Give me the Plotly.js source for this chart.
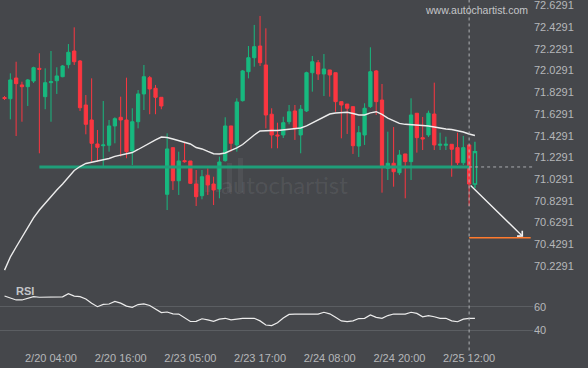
<!DOCTYPE html>
<html><head><meta charset="utf-8">
<script src="https://cdn.plot.ly/plotly-3.0.1.min.js"></script>
<style>html,body{margin:0;padding:0;background:#45474b;overflow:hidden}#chart{width:588px;height:368px}</style>
</head><body><div id="chart"></div>
<script>
// ---- data (hourly candles, index based axis) ----
const openP  = [71.781,71.770,71.961,71.897,71.881,71.933,72.050,71.789,71.918,71.936,
71.973,72.084,72.210,72.118,71.712,71.574,71.353,71.337,71.341,71.519,
71.599,71.574,71.288,71.558,71.814,71.964,71.866,71.783,70.889,71.319,
71.014,71.199,71.196,70.984,70.876,71.061,70.984,70.938,71.199,71.519,
71.344,71.752,72.019,72.148,72.256,72.081,71.627,71.436,71.436,71.558,
71.657,71.436,71.657,72.010,72.102,71.998,72.035,72.010,71.743,71.721,
71.697,71.334,71.436,71.697,72.026,71.758,71.129,71.175,71.088,71.261,
71.190,71.636,71.411,71.436,71.629,71.341,71.341,71.350,71.319,71.180,
71.344,70.984];
const highP  = [71.795,72.004,72.111,71.927,71.952,72.065,72.189,72.050,72.210,72.060,
72.081,72.274,72.428,72.127,71.804,71.958,71.482,71.749,71.574,71.599,
71.789,71.964,71.682,71.850,72.081,71.980,71.897,71.783,71.451,71.319,
71.282,71.365,71.196,71.113,71.113,71.129,71.051,71.236,71.599,71.519,
71.774,72.035,72.256,72.450,72.533,72.419,71.682,71.549,71.604,71.712,
71.712,71.712,72.019,72.164,72.127,72.182,72.035,72.010,71.743,71.721,
71.697,71.519,71.728,72.244,72.035,71.906,71.466,71.509,71.297,71.261,
71.774,71.636,71.602,71.660,71.918,71.457,71.420,71.350,71.457,71.427,
71.344,71.374];
const lowP   = [71.758,71.580,71.426,71.558,71.703,71.915,71.267,71.673,71.558,71.814,
71.968,72.050,72.081,71.657,71.442,71.190,71.190,71.144,71.282,71.359,
71.236,71.221,71.159,71.497,71.666,71.627,71.627,71.673,70.744,70.929,
70.883,71.180,70.984,70.781,70.843,70.883,70.790,70.852,71.190,71.282,
71.282,71.744,71.958,72.065,72.072,71.497,71.313,71.313,71.408,71.534,
71.390,71.267,71.648,71.835,71.943,71.795,71.789,71.650,71.405,71.445,
71.261,71.233,71.344,71.685,71.620,70.904,71.021,70.959,71.067,70.852,
71.021,71.273,71.297,71.417,71.297,71.297,71.297,71.051,71.159,71.159,
70.781,70.944];
const closeP = [71.772,71.943,71.909,71.881,71.943,72.056,72.041,71.918,71.927,71.980,
72.072,72.198,72.111,71.687,71.534,71.359,71.322,71.344,71.519,71.586,
71.574,71.282,71.558,71.814,71.973,71.860,71.783,71.703,71.307,71.014,
71.196,71.190,70.990,70.867,71.051,70.975,70.929,71.187,71.519,71.359,
71.740,72.026,72.148,72.250,72.102,71.620,71.436,71.427,71.549,71.650,
71.497,71.673,72.010,72.111,71.998,72.044,71.989,71.743,71.712,71.682,
71.337,71.457,71.682,72.019,71.743,71.144,71.175,71.097,71.251,71.190,
71.620,71.411,71.399,71.636,71.344,71.350,71.350,71.304,71.180,71.319,
70.984,71.282];
const maValues = [70.190,70.311,70.403,70.496,70.588,70.671,70.744,70.809,70.873,70.929,
70.984,71.049,71.109,71.145,71.173,71.184,71.194,71.205,71.219,71.238,
71.251,71.267,71.274,71.302,71.334,71.367,71.391,71.417,71.413,71.399,
71.385,71.374,71.353,71.320,71.307,71.284,71.263,71.261,71.270,71.293,
71.316,71.348,71.394,71.436,71.473,71.477,71.477,71.477,71.482,71.486,
71.491,71.500,71.519,71.546,71.579,71.606,71.629,71.638,71.643,71.645,
71.634,71.620,71.620,71.640,71.650,71.625,71.592,71.565,71.543,71.534,
71.528,71.525,71.523,71.519,71.509,71.500,71.491,71.486,71.477,71.463,
71.445,71.431];
const rsiValues = [69,67.5,65.7,65.7,67,68.5,68,68,68,68,
68.3,71,69,68.5,66.5,63,60,62,62.3,64.5,
63,60.5,59.5,61.8,62.3,61,58,55,55.5,54,
53.8,50.8,47.5,47.6,49.8,48.8,47.6,49.5,50.2,48.8,
49.5,50.2,50.2,50.2,48,44.5,44,46.5,50.5,53.5,
53.8,53.8,53.8,53.8,53.8,55.3,54,51,48,47.4,
48,50,50.2,53,51,50.2,52.5,53.8,53.8,53.8,
55.3,54.3,51.5,52.5,51.5,50.2,50.2,48,47.3,49.5,
50.2,50.2];
const tickIndex  = [8,20,32,44,56,68,80];
const tickLabels = ['2/20 04:00','2/20 16:00','2/23 05:00','2/23 17:00','2/24 08:00','2/24 20:00','2/25 12:00'];
const priceTicks = [70.2291,70.4291,70.6291,70.8291,71.0291,71.2291,71.4291,71.6291,71.8291,72.0291,72.2291,72.4291,72.6291];
const rsiLevels  = [40,60];
const supportLevel = 71.141, supportStart = 6, supportEnd = 80;
const targetLevel = 70.488, targetStart = 80, targetEnd = 90.6;
const arrowFrom = [80, 70.984], arrowTo = [89.3, 70.497];
const markerIndex = 80;

// ---- layout constants ----
const W = 588, H = 368, ML = 0, MR = 55, MT = 0, MB = 21;
const PW = W - ML - MR, PH = H - MT - MB;
const splitY = 280;               // pixel where price panel ends
const split = (PH - splitY) / PH;
const xMin = -0.78, xMax = 91.0;
const px = x => x / PW, py = y => (PH - y) / PH;

const GREEN = '#17b97f', RED = '#fb3640', BG = '#45474b';
const idx = openP.map((_, i) => i);
const n = idx.length;

const traces = [
  { type:'candlestick', x: idx.slice(0, n-1), open: openP.slice(0, n-1), high: highP.slice(0, n-1),
    low: lowP.slice(0, n-1), close: closeP.slice(0, n-1), xaxis:'x', yaxis:'y', whiskerwidth:0,
    increasing:{line:{color:GREEN,width:1},fillcolor:GREEN},
    decreasing:{line:{color:RED,width:1},fillcolor:RED}, hoverinfo:'skip', showlegend:false },
  { type:'candlestick', x: idx.slice(n-1), open: openP.slice(n-1), high: highP.slice(n-1),
    low: lowP.slice(n-1), close: closeP.slice(n-1), xaxis:'x', yaxis:'y', whiskerwidth:0,
    increasing:{line:{color:GREEN,width:1.3},fillcolor:'rgba(0,0,0,0)'},
    decreasing:{line:{color:RED,width:1},fillcolor:RED}, hoverinfo:'skip', showlegend:false },
  { type:'scatter', mode:'lines', x:[supportStart, supportEnd], y:[supportLevel, supportLevel],
    line:{color:'#1f9e79', width:3}, hoverinfo:'skip', showlegend:false },
  { type:'scatter', mode:'lines', x:[supportEnd, xMax], y:[supportLevel, supportLevel],
    line:{color:'#a9abae', width:1, dash:'3px,3px'}, hoverinfo:'skip', showlegend:false },
  { type:'scatter', mode:'lines', x: idx, y: maValues, line:{color:'#ececec', width:1.4},
    hoverinfo:'skip', showlegend:false },
  { type:'scatter', mode:'lines', x:[targetStart, targetEnd], y:[targetLevel, targetLevel],
    line:{color:'#ff7b2e', width:1.5}, hoverinfo:'skip', showlegend:false },
  { type:'scatter', mode:'lines', x: idx, y: rsiValues, xaxis:'x', yaxis:'y2',
    line:{color:'#ececec', width:1.2}, hoverinfo:'skip', showlegend:false }
];

const tickFont = {family:'Liberation Sans, Arial, sans-serif', size:11, color:'#b5b7ba'};
const shapes = [
  { type:'line', xref:'x', yref:'paper', x0:markerIndex, x1:markerIndex, y0:-0.01, y1:1,
    line:{color:'#b0b2b5', width:1, dash:'3px,3px'} }
];
// faint logo bars of the watermark
[[194,180],[205,174],[216,168],[227,163],[238,158]].forEach(b => {
  shapes.push({ type:'rect', xref:'paper', yref:'paper', x0:px(b[0]), x1:px(b[0]+5),
    y0:py(192), y1:py(b[1]), fillcolor:'rgba(255,255,255,0.06)', line:{width:0}, layer:'below' });
});

const layout = {
  width: W, height: H, margin:{l:ML, r:MR, t:MT, b:MB, pad:0},
  paper_bgcolor: BG, plot_bgcolor: BG, showlegend:false, boxgap:0.2,
  font: tickFont,
  xaxis: { type:'linear', range:[xMin, xMax], anchor:'y2', showgrid:false, zeroline:false,
    showline:false, ticks:'', tickmode:'array', tickvals: tickIndex, ticktext: tickLabels,
    tickfont: tickFont, ticklabelstandoff:3, rangeslider:{visible:false}, fixedrange:true },
  yaxis: { domain:[split, 1], range:[70.099, 72.680], side:'right', anchor:'x', showgrid:false,
    zeroline:false, showline:false, ticks:'', tickmode:'array', tickvals: priceTicks,
    ticktext: priceTicks.map(v => v.toFixed(4)), tickfont: tickFont, ticklabeloverflow:'allow',
    fixedrange:true },
  yaxis2: { domain:[0, split], range:[25.93, 82.57], side:'right', anchor:'x', showgrid:true,
    gridcolor:'#5b5e62', gridwidth:1, zeroline:false, showline:false, ticks:'', tickmode:'array',
    tickvals: rsiLevels, ticktext: rsiLevels.map(String), tickfont: tickFont, fixedrange:true },
  shapes: shapes,
  annotations: [
    { x: arrowTo[0], y: arrowTo[1], ax: arrowFrom[0], ay: arrowFrom[1], xref:'x', yref:'y',
      axref:'x', ayref:'y', showarrow:true, arrowhead:4, arrowsize:1.1, arrowwidth:1.3,
      arrowcolor:'#f2f2f2', text:'', standoff:0 },
    { xref:'paper', yref:'paper', x:px(14), y:py(291), xanchor:'left', yanchor:'middle',
      text:'<b>RSI</b>', showarrow:false,
      font:{family:'Liberation Sans, Arial, sans-serif', size:11, color:'#c3c5c8'} },
    { xref:'paper', yref:'paper', x:px(476.5), y:py(10), xanchor:'center', yanchor:'middle',
      text:'www.autochartist.com', showarrow:false,
      font:{family:'Liberation Sans, Arial, sans-serif', size:10.5, color:'#c4c6c9'} },
    { xref:'paper', yref:'paper', x:px(284), y:py(184), xanchor:'center', yanchor:'middle',
      text:'autochartist', showarrow:false,
      font:{family:'Lato, Liberation Sans, sans-serif', size:24, color:'rgba(255,255,255,0.08)'} }
  ]
};

Plotly.newPlot('chart', traces, layout, {staticPlot:true, displayModeBar:false});
</script>
</body></html>
